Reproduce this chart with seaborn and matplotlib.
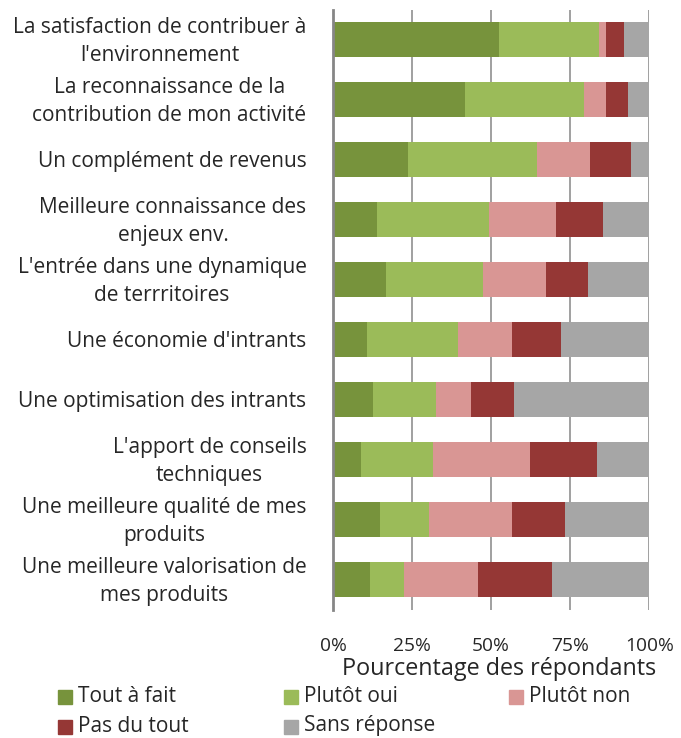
import matplotlib
matplotlib.use("Agg")
import matplotlib.pyplot as plt
import matplotlib.transforms as mtransforms
from matplotlib.patches import Rectangle
import seaborn as sns
import pandas as pd
import numpy as np

categories = [
    "La satisfaction de contribuer à\nl'environnement",
    "La reconnaissance de la\ncontribution de mon activité",
    "Un complément de revenus",
    "Meilleure connaissance des\nenjeux env.",
    "L'entrée dans une dynamique\nde terrritoires",
    "Une économie d'intrants",
    "Une optimisation des intrants",
    "L'apport de conseils\ntechniques",
    "Une meilleure qualité de mes\nproduits",
    "Une meilleure valorisation de\nmes produits",
]
tout_a_fait = [52.5, 41.7, 23.7, 13.9, 16.8, 10.7, 12.6, 8.9, 14.9, 11.7]
plutot_oui = [31.6, 37.7, 40.8, 35.4, 30.6, 28.7, 19.9, 22.7, 15.5, 10.7]
plutot_non = [2.2, 6.9, 16.8, 21.2, 19.9, 17.2, 11.1, 30.7, 26.2, 23.4]
pas_du_tout = [5.7, 7.0, 12.9, 14.9, 13.3, 15.5, 13.6, 21.2, 16.7, 23.4]
sans_reponse = [8.0, 6.7, 5.8, 14.6, 19.4, 27.9, 42.8, 16.5, 26.7, 30.8]

series_names = ["Tout à fait", "Plutôt oui", "Plutôt non", "Pas du tout", "Sans réponse"]
series_vals = [tout_a_fait, plutot_oui, plutot_non, pas_du_tout, sans_reponse]
colors = ["#77933C", "#9BBB59", "#D99694", "#953735", "#A6A6A6"]
xticks = [0, 25, 50, 75, 100]
xtick_labels = ["0%", "25%", "50%", "75%", "100%"]

sns.set_theme(style="white")
plt.rcParams["font.family"] = ["Open Sans", "DejaVu Sans"]

fig = plt.figure(figsize=(6.81, 7.38), dpi=100)
ax = fig.add_axes([333 / 681, 1 - 609.5 / 738, (649.3 - 333) / 681, 600 / 738])

vals = np.array(series_vals)
cum = np.cumsum(vals, axis=0)
cum = cum / cum[-1] * 100
for i in range(len(series_names) - 1, -1, -1):
    df = pd.DataFrame({"cat": categories, "val": cum[i]})
    sns.barplot(data=df, y="cat", x="val", orient="h", color=colors[i],
                saturation=1, width=0.58, ax=ax, zorder=3, linewidth=0)

ax.set_xlim(0, 100)
ax.set_xticks(xticks)
ax.set_xticklabels(xtick_labels, fontsize=13.8)
ax.grid(axis="x", color="#868686", linewidth=1.1, zorder=0)
ax.set_axisbelow(True)
for s in ["top", "right", "bottom"]:
    ax.spines[s].set_visible(False)
ax.spines["left"].set_color("#868686")
ax.spines["left"].set_linewidth(2)
ax.spines["left"].set_zorder(5)
ax.tick_params(axis="x", length=5, color="#868686", width=1.1, pad=15, direction="out")
ax.tick_params(axis="y", length=0, pad=19)
ax.set_ylabel("")
ax.set_xlabel("Pourcentage des répondants", fontsize=16.8)
ax.xaxis.set_label_coords((499.5 - 333) / 316.3, -(675 - 609.5) / 600)
ax.xaxis.label.set_va("baseline")
ax.set_yticks(range(len(categories)))
ax.set_yticklabels(categories, fontsize=15, multialignment="center", linespacing=1.38)
offset = mtransforms.ScaledTranslation(0, -2 / 100, fig.dpi_scale_trans)
for lab in ax.get_yticklabels():
    lab.set_va("center")
    lab.set_transform(lab.get_transform() + offset)

# legend
leg_items = [(0, 0), (1, 1), (2, 2), (3, 0), (4, 1)]
col_x = [58, 284, 509]
row_y = [697, 727]
for idx, (si, ci) in enumerate(leg_items):
    r = 0 if idx < 3 else 1
    x0 = col_x[ci]
    yc = row_y[r]
    fig.patches.append(Rectangle((x0 / 681, 1 - (yc + 7) / 738), 14 / 681, 14 / 738,
                                 transform=fig.transFigure, color=colors[si]))
    fig.text((x0 + 20) / 681, 1 - (yc - 1) / 738, series_names[si], fontsize=15,
             va="center", ha="left")

fig.savefig("out.png", dpi=100)
